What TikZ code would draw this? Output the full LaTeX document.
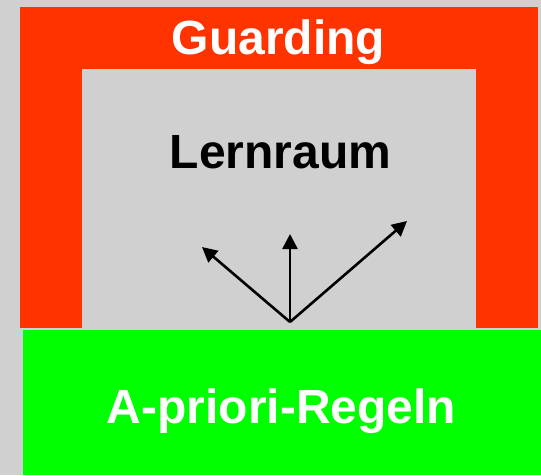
\documentclass[tikz,border=0pt]{standalone}
\usepackage{fontspec}
\setmainfont{Liberation Sans}
\usetikzlibrary{arrows.meta}
\definecolor{bggray}{HTML}{D0D0D0}
\definecolor{guardred}{HTML}{FF3300}
\definecolor{rulegreen}{HTML}{00FF00}
\tikzset{
  bigtext/.style={font=\fontsize{48}{57}\selectfont\bfseries, inner sep=0pt, anchor=base},
  dirarrow/.style={line width=2.6pt, -{Triangle[length=15pt,width=15pt]}}
}
\begin{document}
\begin{tikzpicture}[x=1pt,y=-1pt]
  \useasboundingbox (0,0) rectangle (541,475);
  \fill[bggray] (0,0) rectangle (541,475);
  % red guarding frame
  \fill[guardred] (20,7) rectangle (538,328);
  \fill[bggray] (82,69) rectangle (476,328);
  % green base
  \fill[rulegreen] (23,330) rectangle (541,475);
  % texts
  \node[bigtext, text=white] (guard) at (278.5,54) {Guarding};
  \node[bigtext, text=black] (lern) at (280.5,168) {Lernraum};
  \node[bigtext, text=white] (regeln) at (281.5,423) {A-priori-Regeln};
  % arrows
  \coordinate (o) at (290,322);
  \coordinate (tl) at (202,247);
  \coordinate (tm) at (290,234);
  \coordinate (tr) at (407,221);
  \draw[dirarrow] (o) -- (tl);
  \draw[dirarrow] (o) -- (tm);
  \draw[dirarrow] (o) -- (tr);
\end{tikzpicture}
\end{document}
